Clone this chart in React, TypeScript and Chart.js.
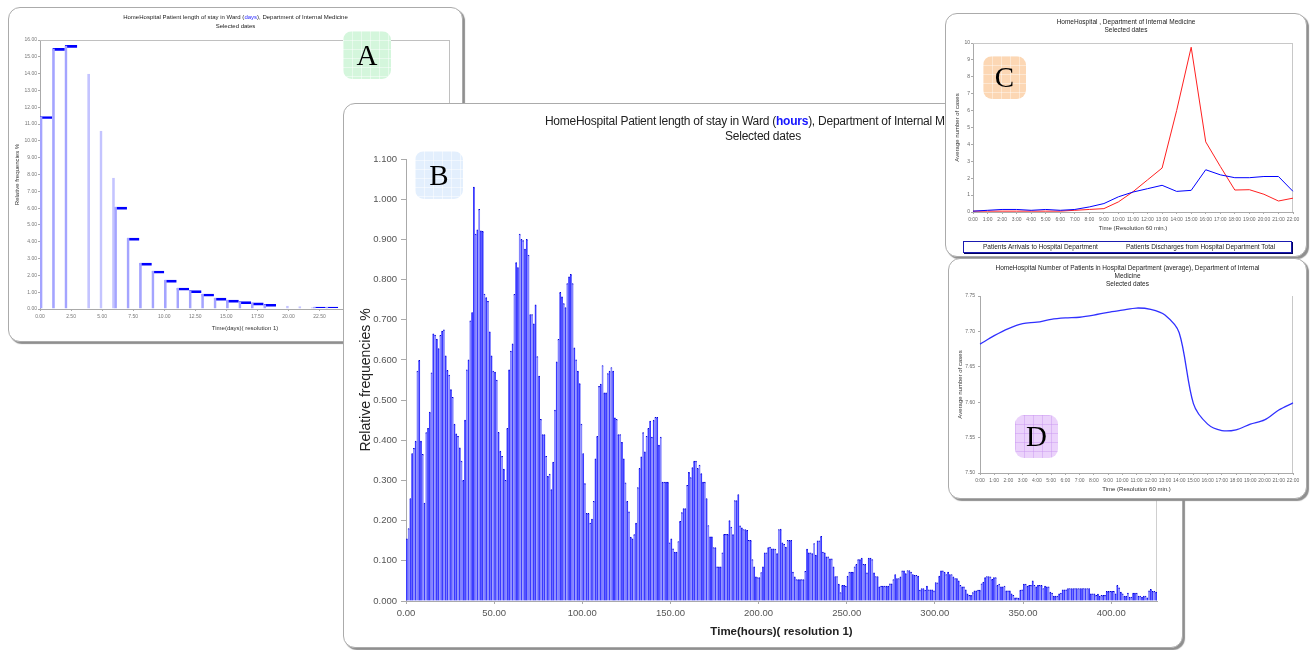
import React, { useEffect, useRef } from 'react';
import { Chart, registerables } from 'chart.js';

Chart.register(...registerables);

const SANS = '"Liberation Sans", Arial, Helvetica, sans-serif';
const SERIF = '"Liberation Serif", "Times New Roman", serif';

// ---------------- Panel A : length of stay in days ----------------
const A_TITLE_PRE = 'HomeHospital Patient length of stay in Ward (';
const A_TITLE_UNIT = 'days';
const A_TITLE_POST = '), Department of Internal Medicine';
const A_SUBTITLE = 'Selected dates';
const A_Y_TITLE = 'Relative frequencies %';
const A_X_TITLE = 'Time(days)( resolution 1)';
const A_DAY_VALUES = [
  11.45, 15.5, 15.68, 14.0, 10.6, 7.8, 6.06, 4.22, 2.73, 2.26,
  1.72, 1.25, 1.09, 0.89, 0.65, 0.53, 0.44, 0.36, 0.28, 0.2,
  0.16, 0.1, 0.12, 0.12,
];
const A_FAINT_DAYS = [3, 4, 5, 19, 20, 21];
const A_Y_TICKS = [0, 1, 2, 3, 4, 5, 6, 7, 8, 9, 10, 11, 12, 13, 14, 15, 16];
const A_X_TICKS = [0, 2.5, 5, 7.5, 10, 12.5, 15, 17.5, 20, 22.5, 25, 27.5, 30, 32.5];

// ---------------- Panel B : length of stay in hours ----------------
const B_TITLE_PRE = 'HomeHospital Patient length of stay in Ward (';
const B_TITLE_UNIT = 'hours';
const B_TITLE_POST = '), Department of Internal Medicine';
const B_SUBTITLE = 'Selected dates';
const B_Y_TITLE = 'Relative frequencies %';
const B_X_TITLE = 'Time(hours)( resolution 1)';
const B_HOUR_VALUES = [
  0.155, 0.180, 0.255, 0.367, 0.380, 0.398, 0.572, 0.599, 0.398, 0.365,
  0.244, 0.419, 0.430, 0.470, 0.568, 0.665, 0.662, 0.652, 0.628, 0.661,
  0.672, 0.675, 0.610, 0.574, 0.562, 0.526, 0.507, 0.440, 0.416, 0.410,
  0.381, 0.348, 0.300, 0.450, 0.575, 0.600, 0.697, 0.718, 1.030, 0.913,
  0.924, 0.975, 0.921, 0.920, 0.764, 0.755, 0.746, 0.670, 0.610, 0.572,
  0.570, 0.550, 0.420, 0.373, 0.360, 0.328, 0.300, 0.430, 0.575, 0.622,
  0.640, 0.763, 0.842, 0.830, 0.913, 0.900, 0.897, 0.876, 0.900, 0.861,
  0.713, 0.713, 0.690, 0.737, 0.608, 0.560, 0.452, 0.414, 0.414, 0.360,
  0.310, 0.316, 0.277, 0.346, 0.475, 0.595, 0.651, 0.768, 0.757, 0.740,
  0.730, 0.790, 0.807, 0.813, 0.790, 0.630, 0.600, 0.572, 0.541, 0.440,
  0.367, 0.292, 0.218, 0.218, 0.194, 0.204, 0.248, 0.354, 0.410, 0.534,
  0.540, 0.586, 0.518, 0.518, 0.566, 0.572, 0.581, 0.572, 0.456, 0.452,
  0.414, 0.414, 0.395, 0.354, 0.294, 0.248, 0.222, 0.159, 0.155, 0.165,
  0.194, 0.282, 0.330, 0.359, 0.419, 0.371, 0.410, 0.430, 0.448, 0.408,
  0.450, 0.457, 0.457, 0.388, 0.408, 0.296, 0.296, 0.296, 0.296, 0.145,
  0.155, 0.130, 0.122, 0.122, 0.148, 0.198, 0.220, 0.230, 0.230, 0.288,
  0.320, 0.307, 0.332, 0.348, 0.348, 0.330, 0.338, 0.317, 0.296, 0.296,
  0.255, 0.188, 0.160, 0.160, 0.133, 0.133, 0.085, 0.085, 0.085, 0.120,
  0.166, 0.166, 0.166, 0.200, 0.184, 0.165, 0.250, 0.250, 0.265, 0.187,
  0.182, 0.178, 0.178, 0.176, 0.151, 0.151, 0.103, 0.085, 0.060, 0.058,
  0.058, 0.071, 0.085, 0.120, 0.120, 0.133, 0.134, 0.130, 0.130, 0.129,
  0.118, 0.178, 0.179, 0.145, 0.141, 0.134, 0.151, 0.151, 0.151, 0.072,
  0.060, 0.053, 0.053, 0.053, 0.053, 0.053, 0.074, 0.129, 0.120, 0.120,
  0.118, 0.143, 0.114, 0.150, 0.150, 0.161, 0.122, 0.120, 0.110, 0.110,
  0.105, 0.105, 0.085, 0.061, 0.061, 0.042, 0.021, 0.039, 0.039, 0.037,
  0.062, 0.072, 0.072, 0.072, 0.085, 0.091, 0.103, 0.103, 0.107, 0.091,
  0.091, 0.070, 0.107, 0.107, 0.103, 0.070, 0.061, 0.061, 0.035, 0.037,
  0.037, 0.037, 0.037, 0.037, 0.043, 0.043, 0.053, 0.066, 0.056, 0.056,
  0.060, 0.075, 0.075, 0.068, 0.076, 0.076, 0.072, 0.066, 0.064, 0.064,
  0.062, 0.027, 0.031, 0.031, 0.027, 0.037, 0.028, 0.028, 0.028, 0.025,
  0.046, 0.045, 0.062, 0.075, 0.075, 0.072, 0.066, 0.072, 0.066, 0.066,
  0.060, 0.056, 0.056, 0.050, 0.039, 0.035, 0.035, 0.028, 0.018, 0.014,
  0.014, 0.021, 0.025, 0.025, 0.027, 0.027, 0.043, 0.047, 0.058, 0.061,
  0.061, 0.060, 0.054, 0.058, 0.058, 0.039, 0.042, 0.035, 0.035, 0.037,
  0.025, 0.025, 0.025, 0.018, 0.014, 0.008, 0.008, 0.007, 0.027, 0.028,
  0.042, 0.042, 0.037, 0.039, 0.039, 0.050, 0.039, 0.035, 0.039, 0.039,
  0.039, 0.031, 0.037, 0.035, 0.035, 0.022, 0.020, 0.012, 0.012, 0.012,
  0.018, 0.020, 0.028, 0.028, 0.028, 0.031, 0.031, 0.031, 0.031, 0.031,
  0.031, 0.031, 0.031, 0.031, 0.031, 0.031, 0.031, 0.031, 0.018, 0.018,
  0.018, 0.014, 0.017, 0.012, 0.014, 0.014, 0.014, 0.024, 0.024, 0.024,
  0.024, 0.024, 0.018, 0.039, 0.033, 0.022, 0.018, 0.012, 0.012, 0.020,
  0.010, 0.010, 0.020, 0.020, 0.020, 0.012, 0.012, 0.010, 0.012, 0.012,
  0.008, 0.025, 0.029, 0.024, 0.024, 0.022,
];
const B_Y_TICKS = [0, 0.1, 0.2, 0.3, 0.4, 0.5, 0.6, 0.7, 0.8, 0.9, 1.0, 1.1];
const B_X_TICKS = [0, 50, 100, 150, 200, 250, 300, 350, 400];
const B_SHADES = ['#3a3aff', '#8484ff', '#3a3aff', '#3a3aff', '#8484ff'];

// ---------------- Panel C : arrivals / discharges per hour ----------------
const C_TITLE = 'HomeHospital , Department of Internal Medicine';
const C_SUBTITLE = 'Selected dates';
const C_Y_TITLE = 'Average number of cases';
const C_X_TITLE = 'Time (Resolution 60 min.)';
const C_HOURS = [
  '0:00', '1:00', '2:00', '3:00', '4:00', '5:00', '6:00', '7:00', '8:00', '9:00', '10:00', '11:00',
  '12:00', '13:00', '14:00', '15:00', '16:00', '17:00', '18:00', '19:00', '20:00', '21:00', '22:00',
];
const C_ARRIVALS = [
  0.05, 0.10, 0.15, 0.15, 0.10, 0.15, 0.10, 0.15, 0.30, 0.50, 0.90, 1.18,
  1.38, 1.58, 1.22, 1.28, 2.50, 2.20, 2.03, 2.03, 2.10, 2.10, 1.22,
];
const C_DISCHARGES = [
  0.05, 0.05, 0.05, 0.05, 0.05, 0.05, 0.05, 0.10, 0.15, 0.20, 0.60, 1.20,
  1.90, 2.60, 6.00, 9.75, 4.15, 2.70, 1.30, 1.32, 1.05, 0.65, 0.82,
];
const C_Y_TICKS = [0, 1, 2, 3, 4, 5, 6, 7, 8, 9, 10];
const C_LEGEND = ['Patients Arrivals to Hospital Department', 'Patients Discharges from Hospital Department Total'];

// ---------------- Panel D : patients in department ----------------
const D_TITLE_1 = 'HomeHospital Number of Patients in Hospital Department (average), Department of Internal';
const D_TITLE_2 = 'Medicine';
const D_SUBTITLE = 'Selected dates';
const D_Y_TITLE = 'Average number of cases';
const D_X_TITLE = 'Time (Resolution 60 min.)';
const D_HOURS = C_HOURS;
const D_PATIENTS = [
  7.682, 7.694, 7.704, 7.711, 7.713, 7.717, 7.719, 7.720, 7.723, 7.727, 7.730, 7.733,
  7.731, 7.723, 7.698, 7.598, 7.569, 7.560, 7.561, 7.569, 7.575, 7.589, 7.599,
];
const D_Y_TICKS = [7.5, 7.55, 7.6, 7.65, 7.7, 7.75];

// ---------------- helpers ----------------
const framePlugin = {
  id: 'frame',
  beforeDatasetsDraw(chart: any, _args: any, opts: any) {
    const { ctx, chartArea } = chart;
    const { left, top, right, bottom } = chartArea;
    ctx.save();
    ctx.strokeStyle = opts.color || '#b8b8b8';
    ctx.lineWidth = 1;
    ctx.beginPath();
    if (opts.top) {
      ctx.moveTo(left, Math.round(top) + 0.5);
      ctx.lineTo(right, Math.round(top) + 0.5);
    }
    if (opts.right) {
      ctx.moveTo(Math.round(right) - 0.5, top);
      ctx.lineTo(Math.round(right) - 0.5, bottom);
    }
    ctx.stroke();
    ctx.restore();
  },
};

const fixTicks = (arr: number[]) => (s: any) => {
  s.ticks = arr.map((v) => ({ value: v }));
};

function axisFont(size: number, weight?: string) {
  return weight ? { family: SANS, size, weight } : { family: SANS, size };
}

function makeA(): any {
  const pts = A_DAY_VALUES.map((v, i) => ({ x: i + 0.5, y: v }));
  const faint = (i: number) => A_FAINT_DAYS.includes(i);
  return {
    type: 'bar',
    data: {
      datasets: [
        {
          data: pts,
          backgroundColor: 'rgba(0,0,0,0)',
          borderColor: (c: any) => (faint(c.dataIndex) ? '#c4c4ff' : '#a4a4ff'),
          borderWidth: (c: any) =>
            faint(c.dataIndex) ? { left: 0, right: 2, top: 0, bottom: 0 } : { left: 2, right: 0, top: 0, bottom: 0 },
          borderSkipped: false,
          grouped: false,
          barPercentage: 1,
          categoryPercentage: 1,
        },
        {
          data: pts,
          backgroundColor: 'rgba(0,0,0,0)',
          borderColor: '#0000ff',
          borderWidth: (c: any) => (faint(c.dataIndex) ? 0 : { left: 0, right: 0, top: 2, bottom: 0 }),
          borderSkipped: false,
          grouped: false,
          barPercentage: 1,
          categoryPercentage: 1,
        },
      ],
    },
    options: {
      responsive: false,
      animation: false,
      events: [],
      layout: { padding: { left: 0, top: 32, right: 12, bottom: 0 } },
      plugins: { legend: { display: false }, tooltip: { enabled: false }, frame: { top: true, right: true, color: '#c0c0c0' } },
      scales: {
        x: {
          type: 'linear',
          min: 0,
          max: 33,
          offset: false,
          afterFit: (s: any) => { s.height = 32; },
          afterBuildTicks: fixTicks(A_X_TICKS),
          ticks: { font: axisFont(5), color: '#777', padding: 3, maxRotation: 0, autoSkip: false, callback: (v: any) => Number(v).toFixed(2) },
          grid: { display: true, drawOnChartArea: false, tickLength: 2, color: '#aaa', offset: false },
          border: { color: '#aaa' },
          title: { display: true, text: A_X_TITLE, font: axisFont(6), color: '#333', padding: { top: 0, bottom: 9 } },
        },
        y: {
          min: 0,
          max: 16,
          afterFit: (s: any) => { s.width = 31; },
          afterBuildTicks: fixTicks(A_Y_TICKS),
          ticks: { font: axisFont(5), color: '#777', padding: 1, callback: (v: any) => Number(v).toFixed(2) },
          grid: { display: true, drawOnChartArea: false, tickLength: 2, color: '#aaa' },
          border: { color: '#aaa' },
          title: { display: true, text: A_Y_TITLE, font: axisFont(6), color: '#333', padding: { top: 5, bottom: 0 } },
        },
      },
    },
    plugins: [framePlugin],
  };
}

function makeB(): any {
  const pts = B_HOUR_VALUES.map((v, i) => ({ x: i + 0.5, y: v }));
  return {
    type: 'bar',
    data: {
      datasets: [
        {
          data: pts,
          backgroundColor: (c: any) => B_SHADES[c.dataIndex % B_SHADES.length],
          borderColor: '#0000d8',
          borderWidth: { left: 0, right: 0, top: 1, bottom: 0 },
          borderSkipped: false,
          barPercentage: 1,
          categoryPercentage: 1,
        },
      ],
    },
    options: {
      responsive: false,
      animation: false,
      events: [],
      layout: { padding: { left: 0, top: 55, right: 25, bottom: 0 } },
      plugins: { legend: { display: false }, tooltip: { enabled: false }, frame: { top: false, right: true, color: '#cfcfcf' } },
      scales: {
        x: {
          type: 'linear',
          min: 0,
          max: 426,
          offset: false,
          afterFit: (s: any) => { s.height = 46; },
          afterBuildTicks: fixTicks(B_X_TICKS),
          ticks: { font: axisFont(9.5), color: '#555', padding: 4, maxRotation: 0, autoSkip: false, callback: (v: any) => Number(v).toFixed(2) },
          grid: { display: true, drawOnChartArea: false, tickLength: 3, color: '#aaa', offset: false },
          border: { color: '#aaa' },
          title: { display: true, text: B_X_TITLE, font: axisFont(11.5, 'bold'), color: '#222', padding: { top: 0, bottom: 8 } },
        },
        y: {
          min: 0,
          max: 1.1,
          afterFit: (s: any) => { s.width = 62; },
          afterBuildTicks: fixTicks(B_Y_TICKS),
          ticks: { font: axisFont(9.5), color: '#555', padding: 4, callback: (v: any) => Number(v).toFixed(3) },
          grid: { display: true, drawOnChartArea: false, tickLength: 5, color: '#aaa' },
          border: { color: '#aaa' },
          title: { display: true, text: B_Y_TITLE, font: axisFont(14), color: '#222', padding: { top: 14, bottom: 0 } },
        },
      },
    },
    plugins: [framePlugin],
  };
}

function makeC(): any {
  return {
    type: 'line',
    data: {
      labels: C_HOURS,
      datasets: [
        { label: C_LEGEND[0], data: C_ARRIVALS, borderColor: '#0000ff', borderWidth: 1, pointRadius: 0, tension: 0 },
        { label: C_LEGEND[1], data: C_DISCHARGES, borderColor: '#ff2020', borderWidth: 1, pointRadius: 0, tension: 0 },
      ],
    },
    options: {
      responsive: false,
      animation: false,
      events: [],
      layout: { padding: { left: 0, top: 29, right: 13, bottom: 21 } },
      plugins: { legend: { display: false }, tooltip: { enabled: false }, frame: { top: true, right: true, color: '#c8c8c8' } },
      scales: {
        x: {
          type: 'category',
          offset: false,
          afterFit: (s: any) => { s.height = 24; },
          ticks: { font: axisFont(5), color: '#666', padding: 3, maxRotation: 0, minRotation: 0, autoSkip: false },
          grid: { display: true, drawOnChartArea: false, tickLength: 2, color: '#aaa', offset: false },
          border: { color: '#aaa' },
          title: { display: true, text: C_X_TITLE, font: axisFont(6), color: '#333', padding: { top: 0, bottom: 4 } },
        },
        y: {
          min: 0,
          max: 10,
          afterFit: (s: any) => { s.width = 27; },
          afterBuildTicks: fixTicks(C_Y_TICKS),
          ticks: { font: axisFont(5), color: '#666', padding: 1 },
          grid: { display: true, drawOnChartArea: false, tickLength: 2, color: '#aaa' },
          border: { color: '#aaa' },
          title: { display: true, text: C_Y_TITLE, font: axisFont(6), color: '#333', padding: { top: 8, bottom: 0 } },
        },
      },
    },
    plugins: [framePlugin],
  };
}

function makeD(): any {
  return {
    type: 'line',
    data: {
      labels: D_HOURS,
      datasets: [
        { data: D_PATIENTS, borderColor: '#3030ff', borderWidth: 1.3, pointRadius: 0, tension: 0.3 },
      ],
    },
    options: {
      responsive: false,
      animation: false,
      events: [],
      layout: { padding: { left: 0, top: 37, right: 14, bottom: 0 } },
      plugins: { legend: { display: false }, tooltip: { enabled: false }, frame: { top: false, right: true, color: '#c8c8c8' } },
      scales: {
        x: {
          type: 'category',
          offset: false,
          afterFit: (s: any) => { s.height = 26; },
          ticks: { font: axisFont(5), color: '#666', padding: 3, maxRotation: 0, minRotation: 0, autoSkip: false },
          grid: { display: true, drawOnChartArea: false, tickLength: 2, color: '#aaa', offset: false },
          border: { color: '#aaa' },
          title: { display: true, text: D_X_TITLE, font: axisFont(6), color: '#333', padding: { top: 0, bottom: 6 } },
        },
        y: {
          min: 7.5,
          max: 7.75,
          afterFit: (s: any) => { s.width = 31; },
          afterBuildTicks: fixTicks(D_Y_TICKS),
          ticks: { font: axisFont(5), color: '#666', padding: 3, callback: (v: any) => Number(v).toFixed(2) },
          grid: { display: true, drawOnChartArea: false, tickLength: 2, color: '#aaa' },
          border: { color: '#aaa' },
          title: { display: true, text: D_Y_TITLE, font: axisFont(6), color: '#333', padding: { top: 8, bottom: 0 } },
        },
      },
    },
    plugins: [framePlugin],
  };
}

type CanvasProps = { make: () => any; left: number; top: number; width: number; height: number; z: number };

function PanelChart({ make, left, top, width, height, z }: CanvasProps) {
  const ref = useRef<HTMLCanvasElement | null>(null);
  useEffect(() => {
    if (!ref.current) return;
    const chart = new Chart(ref.current, make());
    return () => chart.destroy();
  }, [make]);
  return (
    <canvas
      ref={ref}
      width={width}
      height={height}
      style={{ position: 'absolute', left, top, width, height, zIndex: z, display: 'block' }}
    />
  );
}

function Card({ left, top, right, bottom, z }: { left: number; top: number; right: number; bottom: number; z: number }) {
  return (
    <div
      style={{
        position: 'absolute',
        left,
        top,
        width: right - left,
        height: bottom - top,
        boxSizing: 'border-box',
        border: '1px solid #ababab',
        borderRadius: 12,
        background: '#fff',
        boxShadow: '2px 2px 1px #8f8f8f',
        zIndex: z,
      }}
    />
  );
}

function Badge({ letter, left, top, size, bg, line, z }: { letter: string; left: number; top: number; size: number; bg: string; line: string; z: number }) {
  return (
    <div
      style={{
        position: 'absolute',
        left,
        top,
        width: size,
        height: size,
        borderRadius: 9,
        backgroundColor: bg,
        backgroundImage: `linear-gradient(${line} 1px, transparent 1px), linear-gradient(90deg, ${line} 1px, transparent 1px)`,
        backgroundSize: '9px 9px',
        zIndex: z,
        display: 'flex',
        alignItems: 'center',
        justifyContent: 'center',
        fontFamily: SERIF,
        fontSize: 29,
        color: '#000',
        lineHeight: 1,
      }}
    >
      {letter}
    </div>
  );
}

function TitleBlock({ left, width, top, size, lineHeight, z, lines, spacing }: { left: number; width: number; top: number; size: number; lineHeight: number; z: number; lines: React.ReactNode[]; spacing?: number }) {
  return (
    <div
      style={{
        position: 'absolute',
        left,
        top,
        width,
        textAlign: 'center',
        fontFamily: SANS,
        fontSize: size,
        lineHeight: `${lineHeight}px`,
        color: '#222',
        whiteSpace: 'nowrap',
        letterSpacing: spacing ?? 0,
        zIndex: z,
      }}
    >
      {lines.map((l, i) => (
        <div key={i}>{l}</div>
      ))}
    </div>
  );
}

export default function App() {
  return (
    <div style={{ position: 'absolute', left: 0, top: 0, width: 1313, height: 650, background: '#fff', overflow: 'hidden' }}>
      {/* Panel A */}
      <Card left={8} top={7} right={463} bottom={342} z={10} />
      <PanelChart make={makeA} left={9} top={8} width={453} height={333} z={11} />
      <TitleBlock
        left={8}
        width={455}
        top={13}
        size={6}
        lineHeight={9}
        z={12}
        lines={[
          <span>
            {A_TITLE_PRE}
            <span style={{ color: '#2a2aff' }}>{A_TITLE_UNIT}</span>
            {A_TITLE_POST}
          </span>,
          A_SUBTITLE,
        ]}
      />
      <Badge letter="A" left={343} top={31} size={48} bg="#d4f6dc" line="rgba(255,255,255,0.45)" z={13} />

      {/* Panel B */}
      <Card left={343} top={103} right={1183} bottom={648} z={20} />
      <PanelChart make={makeB} left={344} top={104} width={838} height={543} z={21} />
      <TitleBlock
        left={343}
        width={840}
        top={114}
        size={12}
        lineHeight={14.5}
        z={22}
        spacing={-0.25}
        lines={[
          <span>
            {B_TITLE_PRE}
            <span style={{ color: '#1414ff', fontWeight: 'bold' }}>{B_TITLE_UNIT}</span>
            {B_TITLE_POST}
          </span>,
          B_SUBTITLE,
        ]}
      />
      <Badge letter="B" left={415} top={151} size={48} bg="#e3effd" line="rgba(255,255,255,0.5)" z={23} />

      {/* Panel C */}
      <Card left={945} top={13} right={1307} bottom={257} z={30} />
      <PanelChart make={makeC} left={946} top={14} width={360} height={243} z={31} />
      <TitleBlock left={945} width={362} top={18} size={6.5} lineHeight={8} z={32} lines={[C_TITLE, C_SUBTITLE]} />
      <div
        style={{
          position: 'absolute',
          left: 963,
          top: 241,
          width: 329,
          height: 12,
          boxSizing: 'border-box',
          border: '1px solid #1a1ab0',
          boxShadow: '1px 1px 0 #000060',
          background: '#fff',
          zIndex: 33,
          fontFamily: SANS,
          fontSize: 6.5,
          lineHeight: '10px',
          color: '#222',
          whiteSpace: 'nowrap',
        }}
      >
        <span style={{ position: 'absolute', left: 19, top: 0 }}>{C_LEGEND[0]}</span>
        <span style={{ position: 'absolute', left: 162, top: 0 }}>{C_LEGEND[1]}</span>
      </div>
      <Badge letter="C" left={983} top={56} size={43} bg="#fcd7b4" line="rgba(255,255,255,0.4)" z={34} />

      {/* Panel D */}
      <Card left={948} top={258} right={1307} bottom={499} z={40} />
      <PanelChart make={makeD} left={949} top={259} width={358} height={240} z={41} />
      <TitleBlock left={948} width={359} top={264} size={6.5} lineHeight={8} z={42} lines={[D_TITLE_1, D_TITLE_2, D_SUBTITLE]} />
      <Badge letter="D" left={1015} top={415} size={43} bg="#ebd2fb" line="rgba(200,150,240,0.45)" z={43} />
    </div>
  );
}
